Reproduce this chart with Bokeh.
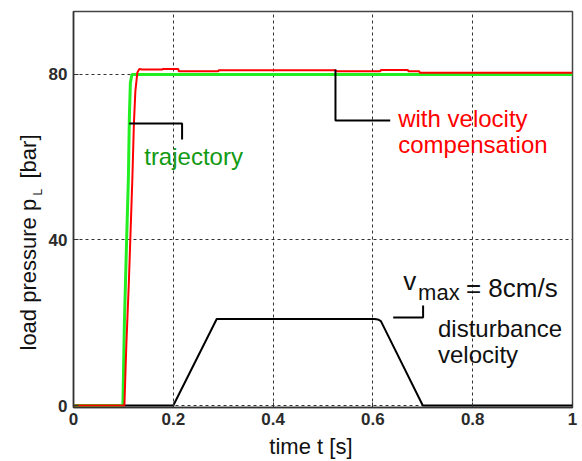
import math
from bokeh.plotting import figure
from bokeh.layouts import row, column
from bokeh.models import Range1d, FixedTicker, Label
from bokeh.embed import file_html
from bokeh.resources import INLINE

# ---- data ----
x_ticks = [0, 0.2, 0.4, 0.6, 0.8, 1.0]
x_tick_labels = {0: "0", 0.2: "0.2", 0.4: "0.4", 0.6: "0.6", 0.8: "0.8", 1.0: "1"}
y_ticks = [0, 40, 80]

# desired trajectory of load pressure [bar]
t_traj = [0.0, 0.099, 0.102, 0.106, 0.110, 0.112, 0.114, 0.117, 1.0]
p_traj = [0, 0, 20, 38, 55, 70, 78, 80, 80]

# measured load pressure with velocity compensation [bar]
t_comp = [0.0, 0.102, 0.106, 0.111, 0.118, 0.121, 0.124, 0.128, 0.132, 0.138,
          0.178, 0.179, 0.21, 0.211, 0.29, 0.291, 0.525, 0.526, 0.615, 0.616,
          0.67, 0.671, 0.693, 0.694, 1.0]
p_comp = [0, 0, 15, 30, 55, 68, 76, 80.5, 81.3, 81.2,
          81.2, 81.3, 81.3, 80.8, 80.8, 81.0, 81.0, 80.8, 80.8, 81.1,
          81.1, 80.8, 80.8, 80.4, 80.4]

# disturbance velocity (plotted in axis units, v_max = 8 cm/s)
t_dist = [0.0, 0.2, 0.287, 0.603, 0.610, 0.616, 0.70, 1.0]
v_dist = [0, 0, 20.9, 20.9, 20.8, 20.4, 0, 0]

# annotation leader lines
lead_traj_t = [0.1118, 0.2176, 0.2176]
lead_traj_p = [68.16, 68.16, 64.3]
lead_comp_t = [0.525, 0.525, 0.6347]
lead_comp_p = [81.2, 68.9, 68.9]
lead_vmax_t = [0.6407, 0.7006, 0.7006]
lead_vmax_p = [21.27, 21.27, 24.17]

FONT = "Liberation Sans"
TOTAL_W, TOTAL_H = 580, 459
YLAB_W = 45
MAIN_H = 433

# ---- main plot ----
p = figure(width=TOTAL_W - YLAB_W, height=MAIN_H, output_backend="svg", toolbar_location=None,
           x_range=Range1d(0, 1), y_range=Range1d(-0.483, 95.22),
           min_border_left=26, min_border_right=8, min_border_top=11, min_border_bottom=26)
p.background_fill_color = "white"
p.border_fill_color = "white"
p.outline_line_color = "#444444"
p.outline_line_width = 1.5

for ax in (p.xaxis, p.yaxis):
    ax.axis_line_color = "#333333"
    ax.axis_line_width = 1.5
    ax.major_tick_in = 5
    ax.major_tick_out = 0
    ax.minor_tick_line_color = None
    ax.major_tick_line_color = "#333333"
    ax.major_label_text_font = FONT
    ax.major_label_text_font_style = "bold"
    ax.major_label_text_font_size = "17px"
    ax.major_label_text_color = "#2b2b2b"

p.xaxis.ticker = FixedTicker(ticks=x_ticks)
p.xaxis.major_label_overrides = x_tick_labels
p.xaxis.major_label_standoff = 5
p.yaxis.ticker = FixedTicker(ticks=y_ticks)
p.yaxis.major_label_standoff = 6

for g in (p.xgrid, p.ygrid):
    g.grid_line_color = "#333333"
    g.grid_line_dash = "3 3"
    g.grid_line_width = 1

# curves
p.line(t_dist, v_dist, line_color="black", line_width=2)
p.line(t_traj, p_traj, line_color="#22ee22", line_width=3)
p.line(t_comp, p_comp, line_color="#ff0000", line_width=2)

# leader lines
p.line(lead_traj_t, lead_traj_p, line_color="black", line_width=2)
p.line(lead_comp_t, lead_comp_p, line_color="black", line_width=2)
p.line(lead_vmax_t, lead_vmax_p, line_color="black", line_width=2)


def lab(fig, x, y, text, size, color="#111111", angle=0.0):
    fig.add_layout(Label(x=x, y=y, text=text, text_font=FONT, text_font_size=size,
                         text_color=color, text_align="left", text_baseline="alphabetic",
                         angle=angle))


lab(p, 0.1417, 60.2, "trajectory", "24px", "#139a13")
lab(p, 0.6507, 69.39, "with velocity", "24px", "#ff0000")
lab(p, 0.6507, 63.11, "compensation", "24px", "#ff0000")
lab(p, 0.7305, 18.63, "disturbance", "24px")
lab(p, 0.7305, 12.35, "velocity", "24px")
lab(p, 0.6607, 30.19, "v", "26px")
lab(p, 0.6906, 27.41, "max", "22px")
lab(p, 0.7864, 28.5, "= 8cm/s", "26px")


def label_panel(w, h):
    f = figure(width=w, height=h, output_backend="svg", toolbar_location=None,
               x_range=Range1d(0, w), y_range=Range1d(0, h),
               x_axis_type=None, y_axis_type=None, min_border=0)
    f.outline_line_color = None
    f.background_fill_color = "white"
    f.border_fill_color = "white"
    f.xgrid.visible = False
    f.ygrid.visible = False
    return f


# ---- y axis label panel (pixel coordinates, y upward) ----
ylab = label_panel(YLAB_W, TOTAL_H)
lab(ylab, 27.6, TOTAL_H - 350, "load pressure p", "22px", angle=math.pi / 2)
lab(ylab, 37.4, TOTAL_H - 195, "L", "12px", angle=math.pi / 2)
lab(ylab, 27.6, TOTAL_H - 178, "[bar]", "22px", angle=math.pi / 2)

# ---- x axis label panel ----
XLAB_H = TOTAL_H - MAIN_H
xlab = label_panel(TOTAL_W - YLAB_W, XLAB_H)
lab(xlab, 255 - YLAB_W, XLAB_H - 21 + 8.4, "time t [s]", "22px")

layout = row(ylab, column(p, xlab, spacing=0), spacing=0)

open("out.html", "w").write(file_html(layout, INLINE))
